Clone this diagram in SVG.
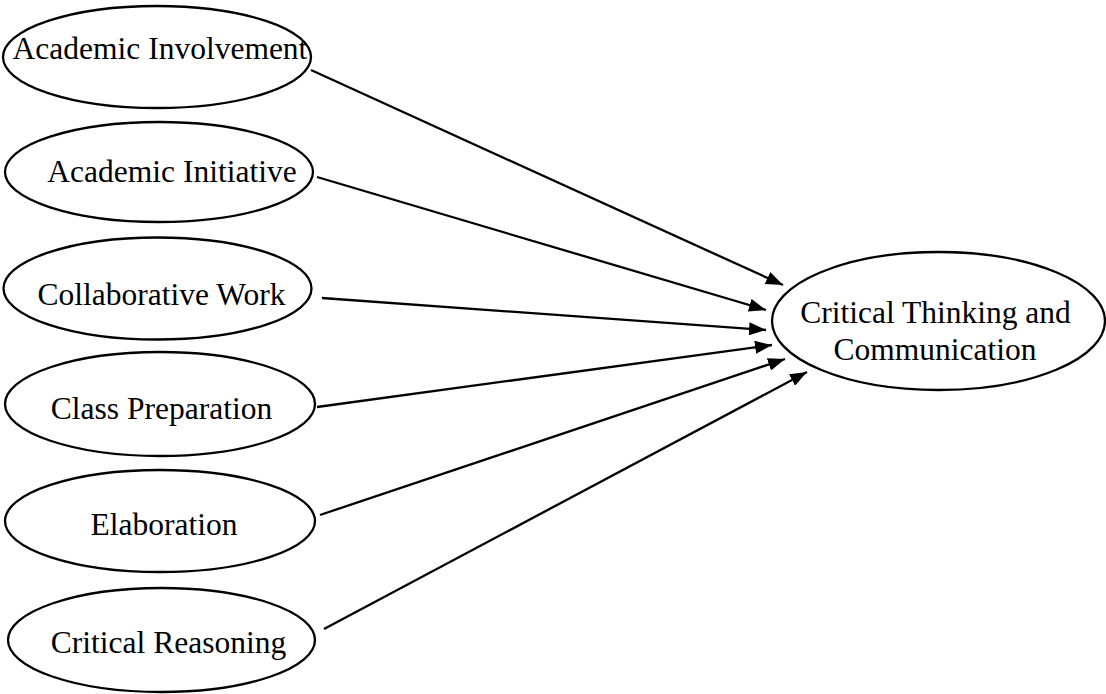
<svg xmlns="http://www.w3.org/2000/svg" width="1106" height="694" viewBox="0 0 1106 694">
<style>
.n ellipse{fill:#fff;stroke:#000;stroke-width:2.3}
.n text{font-family:"Liberation Serif","Times New Roman",serif;font-size:31.5px;fill:#000;text-anchor:middle}
.e line{stroke:#000;stroke-width:2.3;marker-end:url(#ah)}
</style>
<defs>
<marker id="ah" markerUnits="userSpaceOnUse" markerWidth="17" markerHeight="13" refX="17" refY="6.5" orient="auto">
<path d="M0,0 L17,6.5 L0,13 Z" fill="#000"/>
</marker>
</defs>
<rect width="1106" height="694" fill="#fff"/>
<g class="e" id="connectors">
<line x1="311" y1="70" x2="783" y2="285"/>
<line x1="317" y1="177" x2="766" y2="310"/>
<line x1="322" y1="298" x2="766" y2="330"/>
<line x1="317" y1="407" x2="772" y2="345"/>
<line x1="320" y1="515" x2="785" y2="359"/>
<line x1="324" y1="629" x2="807" y2="372"/>
</g>
<g class="n" id="n1"><ellipse cx="157" cy="57" rx="154" ry="51"/><text x="160" y="59">Academic Involvement</text></g>
<g class="n" id="n2"><ellipse cx="159" cy="172" rx="154" ry="50"/><text x="172" y="182">Academic Initiative</text></g>
<g class="n" id="n3"><ellipse cx="157.5" cy="288.5" rx="154" ry="51"/><text x="161.5" y="305">Collaborative Work</text></g>
<g class="n" id="n4"><ellipse cx="160" cy="404" rx="155" ry="52"/><text x="161.5" y="419">Class Preparation</text></g>
<g class="n" id="n5"><ellipse cx="160" cy="521" rx="155" ry="51"/><text x="164" y="535">Elaboration</text></g>
<g class="n" id="n6"><ellipse cx="161.5" cy="640" rx="153.5" ry="52"/><text x="168.5" y="653">Critical Reasoning</text></g>
<g class="n" id="target"><ellipse cx="938.5" cy="321" rx="166.5" ry="69"/><text x="935.5" y="323">Critical Thinking and</text><text x="935" y="360">Communication</text></g>
</svg>
